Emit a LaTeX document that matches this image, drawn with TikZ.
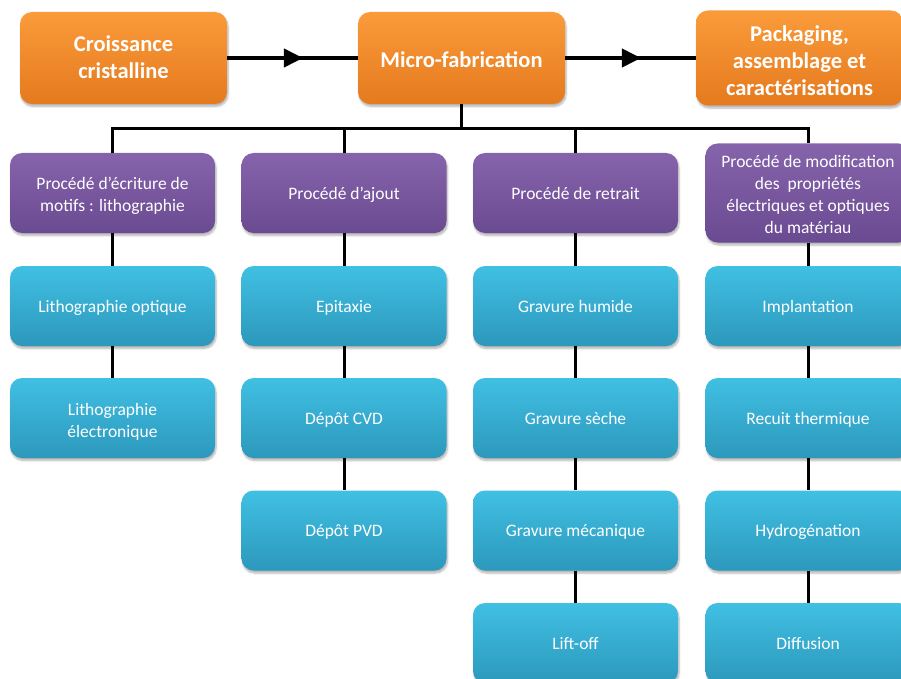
\documentclass[tikz,border=0pt]{standalone}
\usepackage{fontspec}
\setmainfont{Carlito}
\usetikzlibrary{shadows.blur,decorations.markings,arrows.meta}
\definecolor{orTop}{HTML}{FA9B3A}
\definecolor{orBot}{HTML}{E57A1E}
\definecolor{puTop}{HTML}{8664AC}
\definecolor{puBot}{HTML}{6A4A90}
\definecolor{blTop}{HTML}{40C0E3}
\definecolor{blBot}{HTML}{2C98BC}
\tikzset{
  boxbase/.style={rectangle, rounded corners=12pt, inner sep=2pt, align=center, text=white,
    minimum width=205pt, minimum height=80pt,
    execute at end node=\strut,
    blur shadow={shadow xshift=1pt, shadow yshift=-2.5pt, shadow opacity=30, shadow blur steps=6}},
  lift/.style 2 args={execute at begin node={\rule{0pt}{\dimexpr0.7\baselineskip+#1\baselineskip+#2\relax}}},
  orbox/.style={boxbase, top color=orTop, bottom color=orBot, minimum width=207pt, minimum height=92pt,
    font=\fontsize{22.5}{27}\selectfont\bfseries, lift={0}{9pt}},
  pubox/.style={boxbase, top color=puTop, bottom color=puBot, font=\fontsize{17.5}{22}\selectfont, lift={0}{4.5pt}},
  blbox/.style={boxbase, top color=blTop, bottom color=blBot, font=\fontsize{17.5}{22}\selectfont, lift={0}{4pt}},
  flowline/.style={line width=4pt, postaction={decorate},
    decoration={markings, mark=at position 0.58 with {\arrow{Triangle[length=19pt,width=18pt]}}}},
  treeline/.style={line width=3pt},
}
\begin{document}
\begin{tikzpicture}[x=1pt,y=-1pt]
\useasboundingbox (0,0) rectangle (901,679);
\clip (0,0) rectangle (901,679);
% top row
\node[orbox, lift={1}{3.6pt}] (cc) at (123.5,58) {Croissance\\cristalline};
\node[orbox] (mf) at (461.5,58) {Micro-fabrication};
\node[orbox, lift={2}{10pt}] (pk) at (799.5,58) {Packaging,\\assemblage et\\caractérisations};
% purple row
\node[pubox, lift={1}{6.4pt}] (p1) at (112.5,193) {Procédé d’écriture de\\motifs : lithographie};
\node[pubox] (p2) at (344,193) {Procédé d’ajout};
\node[pubox] (p3) at (575.5,193) {Procédé de retrait};
\node[pubox, lift={3}{7pt}] (p4) at (808,193) {Procédé de modification\\des\ \ propriétés\\électriques et optiques\\du matériau};
% column 1
\node[blbox] (a1) at (112.5,306) {Lithographie optique};
\node[blbox, lift={1}{7.6pt}] (a2) at (112.5,418) {Lithographie\\électronique};
% column 2
\node[blbox] (b1) at (344,306) {Epitaxie};
\node[blbox] (b2) at (344,418) {Dépôt CVD};
\node[blbox] (b3) at (344,530.5) {Dépôt PVD};
% column 3
\node[blbox] (c1) at (575.5,306) {Gravure humide};
\node[blbox] (c2) at (575.5,418) {Gravure sèche};
\node[blbox] (c3) at (575.5,530.5) {Gravure mécanique};
\node[blbox] (c4) at (575.5,643) {Lift-off};
% column 4
\node[blbox] (d1) at (808,306) {Implantation};
\node[blbox] (d2) at (808,418) {Recuit thermique};
\node[blbox] (d3) at (808,530.5) {Hydrogénation};
\node[blbox] (d4) at (808,643) {Diffusion};
% connectors
\draw[flowline] (cc.east) -- (mf.west);
\draw[flowline] (mf.east) -- (pk.west);
\coordinate (jn) at (461.5,129);
\draw[treeline] (mf.south) -- (jn);
\draw[treeline] (p1.north) |- (jn) -| (p4.north);
\draw[treeline] (p2.north) -- (p2.north |- jn);
\draw[treeline] (p3.north) -- (p3.north |- jn);
\draw[treeline] (p1.south) -- (a1.north);
\draw[treeline] (a1.south) -- (a2.north);
\draw[treeline] (p2.south) -- (b1.north);
\draw[treeline] (b1.south) -- (b2.north);
\draw[treeline] (b2.south) -- (b3.north);
\draw[treeline] (p3.south) -- (c1.north);
\draw[treeline] (c1.south) -- (c2.north);
\draw[treeline] (c2.south) -- (c3.north);
\draw[treeline] (c3.south) -- (c4.north);
\draw[treeline] (p4.south) -- (d1.north);
\draw[treeline] (d1.south) -- (d2.north);
\draw[treeline] (d2.south) -- (d3.north);
\draw[treeline] (d3.south) -- (d4.north);
\end{tikzpicture}
\end{document}
